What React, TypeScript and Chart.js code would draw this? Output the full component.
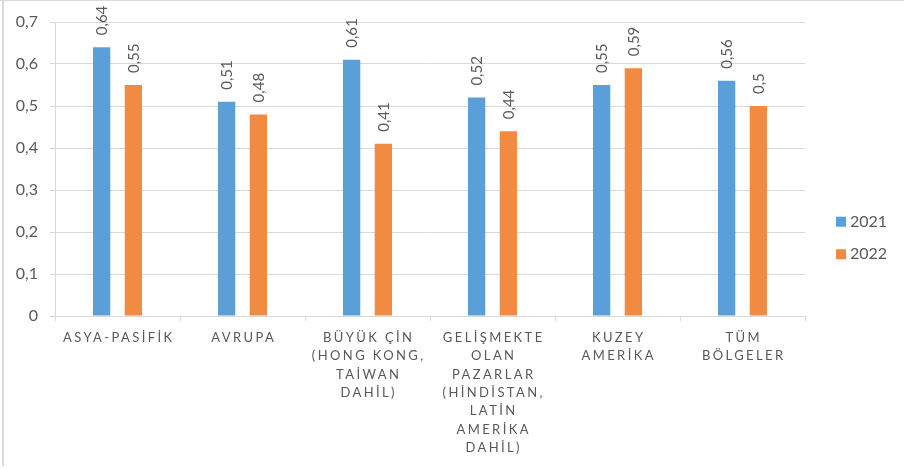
import React, { useEffect, useRef } from "react";
import { Chart, registerables } from "chart.js";

Chart.register(...registerables);

const categories: string[][] = [
  ["ASYA-PASİFİK"],
  ["AVRUPA"],
  ["BÜYÜK ÇİN", "(HONG KONG,", "TAİWAN", "DAHİL)"],
  ["GELİŞMEKTE", "OLAN", "PAZARLAR", "(HİNDİSTAN,", "LATİN", "AMERİKA", "DAHİL)"],
  ["KUZEY", "AMERİKA"],
  ["TÜM", "BÖLGELER"],
];
const seriesNames = ["2021", "2022"];
const values2021 = [0.64, 0.51, 0.61, 0.52, 0.55, 0.56];
const values2022 = [0.55, 0.48, 0.41, 0.44, 0.59, 0.5];
const seriesColors = ["#5B9FD9", "#F28B41"];
const yMin = 0;
const yMax = 0.7;
const yStep = 0.1;

const TEXT = "#595959";
const GRID = "#d9d9d9";
const FONT = "Lato";

const fmt = (v: number) => (v === 0 ? "0" : String(Math.round(v * 100) / 100).replace(".", ","));

const overlayPlugin = {
  id: "overlay",
  afterDatasetsDraw(chart: any) {
    const ctx = chart.ctx;
    ctx.save();
    ctx.fillStyle = TEXT;
    ctx.font = `15px ${FONT}`;
    ctx.textAlign = "left";
    ctx.textBaseline = "middle";
    chart.data.datasets.forEach((ds: any, di: number) => {
      const meta = chart.getDatasetMeta(di);
      meta.data.forEach((el: any, i: number) => {
        ctx.save();
        ctx.translate(el.x + 1, el.y - 12);
        ctx.rotate(-Math.PI / 2);
        ctx.fillText(fmt(ds.data[i]), 0, 0);
        ctx.restore();
      });
    });
    ctx.restore();
  },
  afterDraw(chart: any) {
    const ctx = chart.ctx;
    const area = chart.chartArea;
    const xs = chart.scales.x;
    // category labels
    ctx.save();
    ctx.fillStyle = TEXT;
    ctx.font = `13px ${FONT}`;
    (ctx as any).letterSpacing = "2.4px";
    ctx.textAlign = "center";
    ctx.textBaseline = "middle";
    categories.forEach((lines, i) => {
      const x = xs.getPixelForValue(i) + 1.2;
      lines.forEach((line, k) => {
        ctx.fillText(line, x, area.bottom + 22 + k * 18.3);
      });
    });
    ctx.restore();
    // legend
    ctx.save();
    ctx.font = `16px ${FONT}`;
    ctx.textAlign = "left";
    ctx.textBaseline = "middle";
    const cy = chart.height / 2 + 3;
    seriesNames.forEach((name, i) => {
      const y = cy + (i === 0 ? -16.25 : 16.25);
      ctx.fillStyle = seriesColors[i];
      ctx.fillRect(area.right + 31, y - 5, 10, 10);
      ctx.fillStyle = TEXT;
      ctx.fillText(name, area.right + 45, y);
    });
    ctx.restore();
  },
};

export default function App() {
  const ref = useRef<HTMLCanvasElement>(null);
  useEffect(() => {
    if (!ref.current) return;
    const chart = new Chart(ref.current, {
      type: "bar",
      data: {
        labels: categories.map((c) => c.join(" ")),
        datasets: [
          {
            label: seriesNames[0],
            data: values2021,
            backgroundColor: seriesColors[0],
            categoryPercentage: 0.508,
            barPercentage: 0.545,
          },
          {
            label: seriesNames[1],
            data: values2022,
            backgroundColor: seriesColors[1],
            categoryPercentage: 0.508,
            barPercentage: 0.545,
          },
        ],
      },
      options: {
        responsive: false,
        animation: false,
        devicePixelRatio: 1,
        layout: { padding: { top: 22, right: 99, left: 0, bottom: 0 } },
        plugins: {
          legend: { display: false },
          tooltip: { enabled: false },
        },
        scales: {
          x: {
            offset: true,
            grid: {
              display: true,
              offset: true,
              drawOnChartArea: false,
              drawTicks: true,
              tickLength: 5,
              color: GRID,
            },
            border: { display: true, color: GRID },
            ticks: { display: false },
            afterFit: (s: any) => {
              s.height = 154;
            },
          },
          y: {
            min: yMin,
            max: yMax,
            ticks: {
              stepSize: yStep,
              color: TEXT,
              font: { family: FONT, size: 16 },
              padding: 12,
              callback: (v: any) => fmt(Number(v)),
            },
            grid: { color: GRID, tickLength: 5, drawTicks: true },
            border: { display: true, color: GRID },
            afterFit: (s: any) => {
              s.width = 55;
            },
          },
        },
      },
      plugins: [overlayPlugin],
    });
    return () => chart.destroy();
  }, []);
  return (
    <div style={{ position: "fixed", left: 0, top: 0, width: 904, height: 470, background: "#fff" }}>
      <canvas ref={ref} width={904} height={470} style={{ display: "block" }} />
      <div style={{ position: "absolute", left: 0, top: 0, width: 904, height: 1, background: GRID }} />
      <div style={{ position: "absolute", left: 2, top: 0, width: 2, height: 466, background: GRID }} />
    </div>
  );
}
